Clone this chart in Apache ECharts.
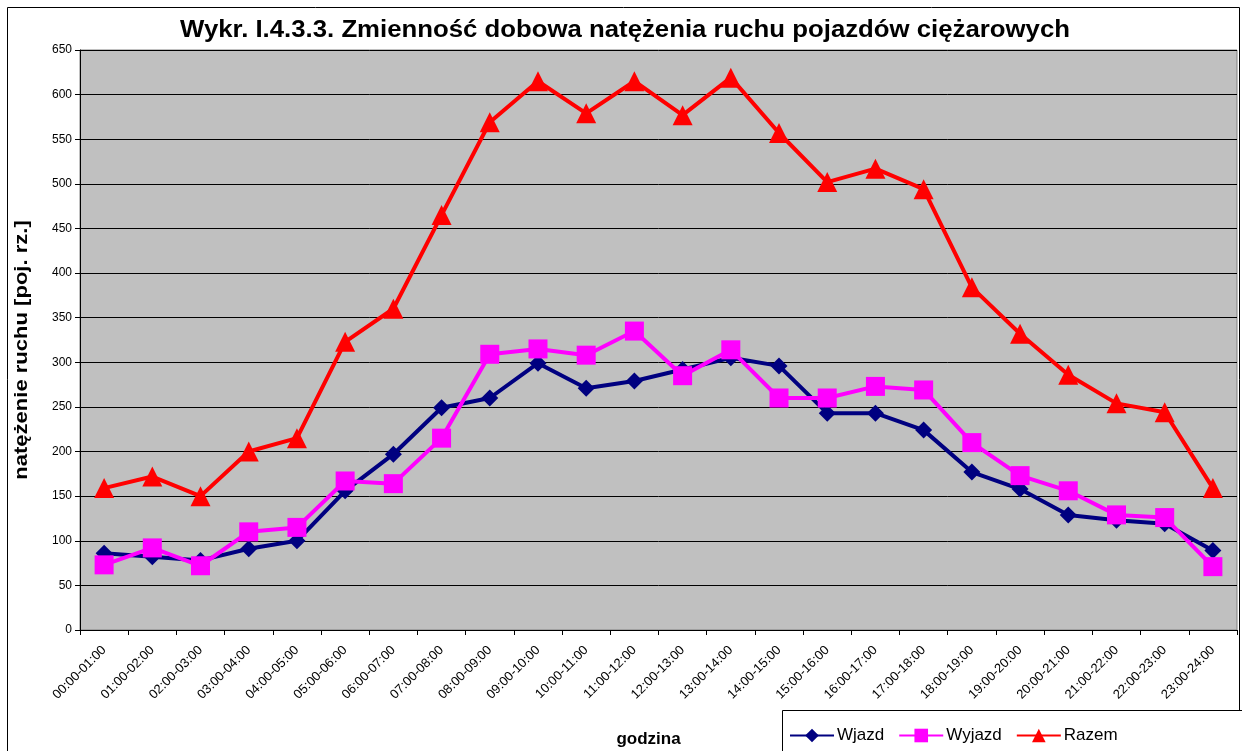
<!DOCTYPE html>
<html><head><meta charset="utf-8">
<script src="https://cdn.jsdelivr.net/npm/echarts@6/dist/echarts.min.js"></script>
<style>html,body{margin:0;padding:0;background:#fff}#c{width:1242px;height:751px}</style>
</head><body><div id="c"></div>
<script>
const categories = ["00:00-01:00","01:00-02:00","02:00-03:00","03:00-04:00","04:00-05:00","05:00-06:00","06:00-07:00","07:00-08:00","08:00-09:00","09:00-10:00","10:00-11:00","11:00-12:00","12:00-13:00","13:00-14:00","14:00-15:00","15:00-16:00","16:00-17:00","17:00-18:00","18:00-19:00","19:00-20:00","20:00-21:00","21:00-22:00","22:00-23:00","23:00-24:00"];
const wjazd = [86,82,78,91,100,156,197,249,260,299,271,279,292,305,296,243,243,224,177,158,129,123,119,89];
const wyjazd = [73,92,72,110,115,167,164,215,309,315,308,335,285,314,260,260,273,269,210,173,156,129,126,71];
const razem = [159,172,150,200,215,323,360,465,569,615,579,615,577,619,557,502,517,494,384,332,286,254,244,159];
const yTicks = {min:0, max:650, interval:50};
const titleText = 'Wykr. I.4.3.3. Zmienność dobowa natężenia ruchu pojazdów ciężarowych';
const yName = 'natężenie ruchu [poj. rz.]';

const font = "Liberation Sans, Arial, sans-serif";
const chart = echarts.init(document.getElementById('c'));
chart.setOption({
  backgroundColor:'#fff',
  animation:false,
  graphic:[
    {type:'rect', shape:{x:7.5,y:7.5,width:1232,height:760}, style:{fill:'none', stroke:'#000', lineWidth:1}, z:-1},
    {type:'rect', shape:{x:782.5,y:710.5,width:470,height:60}, style:{fill:'#fff', stroke:'#000', lineWidth:1}, z:5},
    {type:'text', x:625, y:31, scaleX:1.12, z:10,
      style:{text:titleText, fontFamily:font, fontSize:23, fontWeight:'bold', fill:'#000', textAlign:'center', textVerticalAlign:'middle'}},
    {type:'text', x:22, y:350, rotation:Math.PI/2, scaleX:1.16, z:10,
      style:{text:yName, fontFamily:font, fontSize:19, fontWeight:'bold', fill:'#000', textAlign:'center', textVerticalAlign:'middle'}}
  ],
  legend:{left:784, top:722, itemWidth:44, itemHeight:17, itemGap:14, z:10,
    textStyle:{fontFamily:font, fontSize:17, color:'#000', padding:[0,0,0,-2]},
    data:['Wjazd','Wyjazd','Razem']},
  grid:{left:80, right:5, top:50, bottom:121, outerBoundsMode:'none', containLabel:false, show:true, backgroundColor:'#C0C0C0', borderColor:'#808080', borderWidth:1},
  xAxis:{type:'category', data:categories, boundaryGap:true,
    name:'godzina', nameLocation:'middle', nameGap:101,
    nameTextStyle:{fontFamily:font, fontSize:17, fontWeight:'bold', color:'#000', padding:[0,20,0,0]},
    axisLine:{lineStyle:{color:'#000'}},
    axisTick:{show:true, alignWithLabel:false, length:5, lineStyle:{color:'#000'}},
    axisLabel:{interval:0, rotate:45, fontFamily:font, fontSize:13, color:'#000', margin:18}},
  yAxis:{type:'value', min:yTicks.min, max:yTicks.max, interval:yTicks.interval,
    axisLine:{show:true, lineStyle:{color:'#000'}},
    axisTick:{show:true, length:5, lineStyle:{color:'#000'}},
    axisLabel:{fontFamily:font, fontSize:12, color:'#000', margin:8},
    splitLine:{lineStyle:{color:'#000', width:1}}},
  series:[
    {name:'Wjazd', type:'line', data:wjazd, symbol:'diamond', symbolSize:17,
      lineStyle:{color:'#000080', width:4}, itemStyle:{color:'#000080'}, z:3},
    {name:'Wyjazd', type:'line', data:wyjazd, symbol:'rect', symbolSize:19,
      lineStyle:{color:'#FF00FF', width:4}, itemStyle:{color:'#FF00FF'}, z:4},
    {name:'Razem', type:'line', data:razem, symbol:'triangle', symbolSize:20,
      lineStyle:{color:'#FF0000', width:4}, itemStyle:{color:'#FF0000'}, z:5}
  ]
});
</script></body></html>
